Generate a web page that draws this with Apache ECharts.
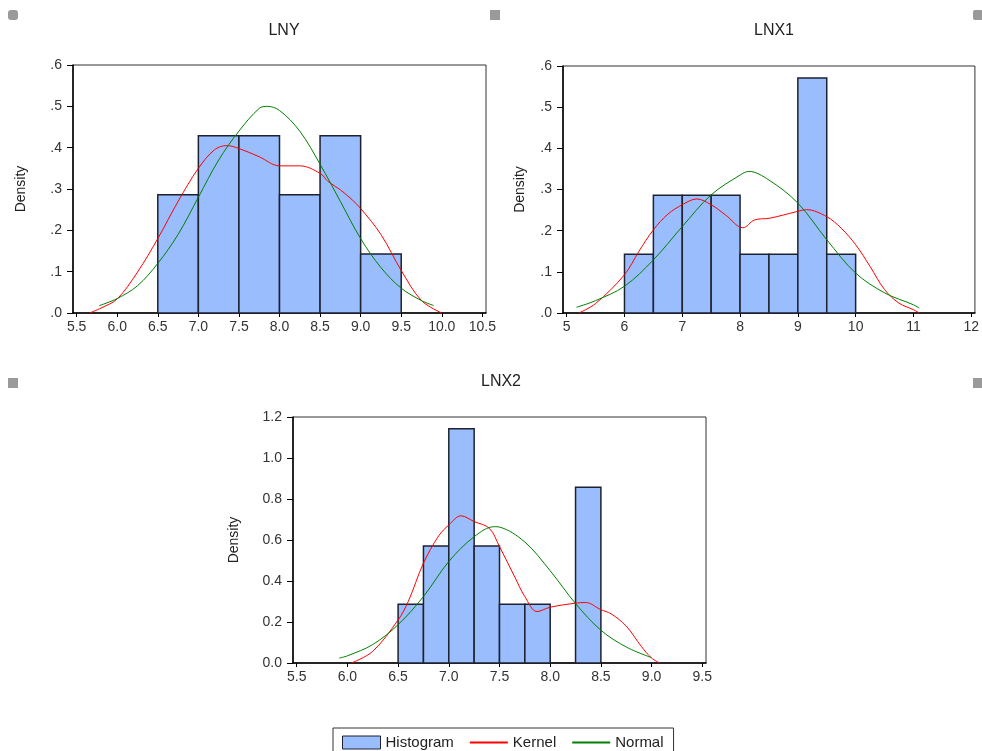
<!DOCTYPE html>
<html>
<head>
<meta charset="utf-8">
<script src="https://cdn.jsdelivr.net/npm/echarts@6/dist/echarts.min.js"></script>
<style>
  html, body { margin: 0; padding: 0; background: #fff; }
  #chart { width: 982px; height: 751px; }
</style>
</head>
<body>
<div id="chart"></div>
<script>
  // LNY
  var lnyEdges = [6.5, 7.0, 7.5, 8.0, 8.5, 9.0, 9.5];
  var lnyDensity = [0.286, 0.429, 0.429, 0.286, 0.429, 0.143];
  var lnyKernel = [[5.66,0],[5.8,0.012],[6.0,0.034],[6.25,0.099],[6.5,0.18],[6.75,0.27],[7.0,0.35],[7.2,0.395],[7.35,0.405],[7.5,0.398],[7.75,0.378],[8.0,0.356],[8.25,0.356],[8.5,0.338],[8.6,0.318],[8.75,0.298],[8.9,0.273],[9.0,0.253],[9.25,0.19],[9.5,0.103],[9.75,0.03],[10.0,0]];
  var lnyNormal = [[5.78,0.018],[6.0,0.035],[6.25,0.066],[6.5,0.12],[6.75,0.19],[7.0,0.28],[7.25,0.37],[7.5,0.44],[7.75,0.495],[7.85,0.5],[8.0,0.49],[8.25,0.44],[8.5,0.36],[8.75,0.27],[9.0,0.18],[9.25,0.11],[9.5,0.06],[9.75,0.03],[9.9,0.018]];
  var lnyTicks = [5.5, 6.0, 6.5, 7.0, 7.5, 8.0, 8.5, 9.0, 9.5, 10.0, 10.5];

  // LNX1
  var lnx1Edges = [6.0, 6.5, 7.0, 7.5, 8.0, 8.5, 9.0, 9.5, 10.0];
  var lnx1Density = [0.143, 0.286, 0.286, 0.286, 0.143, 0.143, 0.571, 0.143];
  var lnx1Kernel = [[5.21,0],[5.5,0.023],[6.0,0.093],[6.25,0.15],[6.5,0.202],[6.75,0.24],[7.0,0.263],[7.25,0.277],[7.5,0.263],[7.75,0.238],[8.05,0.207],[8.25,0.226],[8.5,0.23],[8.75,0.238],[9.0,0.247],[9.15,0.251],[9.5,0.234],[9.75,0.206],[10.0,0.166],[10.25,0.113],[10.5,0.057],[10.75,0.024],[11.0,0.008],[11.1,0]];
  var lnx1Normal = [[5.17,0.014],[5.5,0.03],[6.0,0.065],[6.5,0.129],[7.0,0.21],[7.5,0.287],[8.0,0.335],[8.15,0.344],[8.5,0.323],[9.0,0.267],[9.5,0.178],[10.0,0.097],[10.5,0.049],[11.0,0.02],[11.1,0.012]];
  var lnx1Ticks = [5, 6, 7, 8, 9, 10, 11, 12];

  // LNX2
  var lnx2Edges = [6.5, 6.75, 7.0, 7.25, 7.5, 7.75, 8.0, 8.25, 8.5];
  var lnx2Density = [0.286, 0.571, 1.143, 0.571, 0.286, 0.286, 0, 0.857];
  var lnx2Kernel = [[6.04,0],[6.25,0.057],[6.5,0.21],[6.6,0.3],[6.75,0.487],[6.9,0.62],[7.0,0.673],[7.12,0.718],[7.25,0.69],[7.4,0.657],[7.5,0.568],[7.65,0.42],[7.75,0.324],[7.87,0.251],[8.0,0.272],[8.25,0.292],[8.35,0.295],[8.5,0.26],[8.6,0.24],[8.75,0.18],[8.9,0.08],[9.0,0.024],[9.08,0]];
  var lnx2Normal = [[5.92,0.024],[6.0,0.035],[6.25,0.09],[6.5,0.187],[6.75,0.324],[7.0,0.495],[7.25,0.616],[7.45,0.665],[7.5,0.663],[7.75,0.59],[8.0,0.45],[8.25,0.29],[8.5,0.16],[8.75,0.078],[9.0,0.026]];
  var lnx2Ticks = [5.5, 6.0, 6.5, 7.0, 7.5, 8.0, 8.5, 9.0, 9.5];

  var FONT = '"Liberation Sans", Arial, sans-serif';
  var BAR_FILL = '#99bdfd';
  var BAR_EDGE = '#1e2230';

  function binData(edges, dens) {
    var out = [];
    dens.forEach(function (d, i) {
      if (d > 0) out.push([edges[i], edges[i + 1], d]);
    });
    return out;
  }

  function renderBin(params, api) {
    var p0 = api.coord([api.value(0), api.value(2)]);
    var p1 = api.coord([api.value(1), 0]);
    return {
      type: 'rect',
      shape: { x: p0[0], y: p0[1], width: p1[0] - p0[0], height: p1[1] - p0[1] },
      style: { fill: BAR_FILL, stroke: BAR_EDGE, lineWidth: 1.5 }
    };
  }

  function xAxisFor(idx, min, max, ticks, dec) {
    return {
      type: 'value', gridIndex: idx, min: min, max: max,
      axisLine: { show: true, lineStyle: { color: '#000', width: 1.5 } },
      axisTick: { show: true, length: 4, customValues: ticks, lineStyle: { color: '#000' } },
      axisLabel: {
        customValues: ticks, margin: 7, color: '#333', fontSize: 14, fontFamily: FONT,
        formatter: function (v) { return v.toFixed(dec); }
      },
      splitLine: { show: false }
    };
  }

  function yAxisFor(idx, max, step, leadingZero, gap) {
    return {
      type: 'value', gridIndex: idx, min: 0, max: max, interval: step,
      name: 'Density', nameLocation: 'middle', nameRotate: 90, nameGap: gap,
      nameTextStyle: { color: '#222', fontSize: 14, fontFamily: FONT },
      axisLine: { show: true, lineStyle: { color: '#000', width: 1.5 } },
      axisTick: { show: true, length: 6, lineStyle: { color: '#000' } },
      axisLabel: {
        margin: 11, color: '#333', fontSize: 14, fontFamily: FONT,
        formatter: function (v) {
          var s = v.toFixed(1);
          return leadingZero ? s : s.replace(/^0/, '');
        }
      },
      splitLine: { show: false }
    };
  }

  function panelSeries(idx, edges, dens, kernel, normal) {
    return [
      {
        name: 'Histogram', type: 'custom', xAxisIndex: idx, yAxisIndex: idx,
        renderItem: renderBin, encode: { x: [0, 1], y: 2 },
        itemStyle: { color: BAR_FILL, borderColor: BAR_EDGE, borderWidth: 1 },
        data: binData(edges, dens), z: 1
      },
      {
        name: 'Kernel', type: 'line', xAxisIndex: idx, yAxisIndex: idx,
        data: kernel, smooth: 0.35, symbol: 'none',
        lineStyle: { color: '#ff0000', width: 1 }, itemStyle: { color: '#ff0000' }, z: 3
      },
      {
        name: 'Normal', type: 'line', xAxisIndex: idx, yAxisIndex: idx,
        data: normal, smooth: 0.35, symbol: 'none',
        lineStyle: { color: '#008000', width: 1 }, itemStyle: { color: '#008000' }, z: 3
      }
    ];
  }

  function marker(x, y, r) {
    return { type: 'rect', shape: { x: x - 5, y: y - 5, width: 10, height: 10, r: r },
             style: { fill: '#9a9a9a' }, silent: true };
  }

  var chart = echarts.init(document.getElementById('chart'), null, { renderer: 'canvas' });

  var option = {
    animation: false,
    backgroundColor: '#fff',
    title: [
      { text: 'LNY', left: 279, top: 18, textAlign: 'center',
        textStyle: { fontSize: 16, fontWeight: 'normal', color: '#222', fontFamily: FONT } },
      { text: 'LNX1', left: 769, top: 18, textAlign: 'center',
        textStyle: { fontSize: 16, fontWeight: 'normal', color: '#222', fontFamily: FONT } },
      { text: 'LNX2', left: 496, top: 369, textAlign: 'center',
        textStyle: { fontSize: 16, fontWeight: 'normal', color: '#222', fontFamily: FONT } }
    ],
    grid: [
      { left: 73, top: 65, width: 413, height: 248, show: true, borderColor: '#333', borderWidth: 1 },
      { left: 563, top: 66, width: 413, height: 247, show: true, borderColor: '#333', borderWidth: 1 },
      { left: 293, top: 417, width: 413, height: 246, show: true, borderColor: '#333', borderWidth: 1 }
    ],
    xAxis: [
      xAxisFor(0, 5.455, 10.545, lnyTicks, 1),
      xAxisFor(1, 4.936, 12.064, lnx1Ticks, 0),
      xAxisFor(2, 5.4635, 9.5365, lnx2Ticks, 1)
    ],
    yAxis: [
      yAxisFor(0, 0.6, 0.1, false, 45),
      yAxisFor(1, 0.6, 0.1, false, 36),
      yAxisFor(2, 1.2, 0.2, true, 52)
    ],
    legend: {
      left: 333, top: 728,
      padding: [7, 10, 8, 9],
      itemGap: 15, itemWidth: 38, itemHeight: 13,
      backgroundColor: '#fff', borderColor: '#333', borderWidth: 1, borderRadius: 0,
      selectedMode: false,
      textStyle: { fontSize: 15, color: '#222', fontFamily: FONT },
      data: [
        { name: 'Histogram', icon: 'rect', itemStyle: { color: BAR_FILL, borderColor: BAR_EDGE, borderWidth: 1 } },
        { name: 'Kernel', itemStyle: { opacity: 0 } },
        { name: 'Normal', itemStyle: { opacity: 0 } }
      ]
    },
    graphic: [
      marker(13, 15, 3),
      marker(495, 15, 0),
      marker(978, 15, 2),
      marker(13, 383, 0),
      marker(978, 383, 0)
    ],
    series: []
      .concat(panelSeries(0, lnyEdges, lnyDensity, lnyKernel, lnyNormal))
      .concat(panelSeries(1, lnx1Edges, lnx1Density, lnx1Kernel, lnx1Normal))
      .concat(panelSeries(2, lnx2Edges, lnx2Density, lnx2Kernel, lnx2Normal))
  };

  chart.setOption(option);
</script>
</body>
</html>
